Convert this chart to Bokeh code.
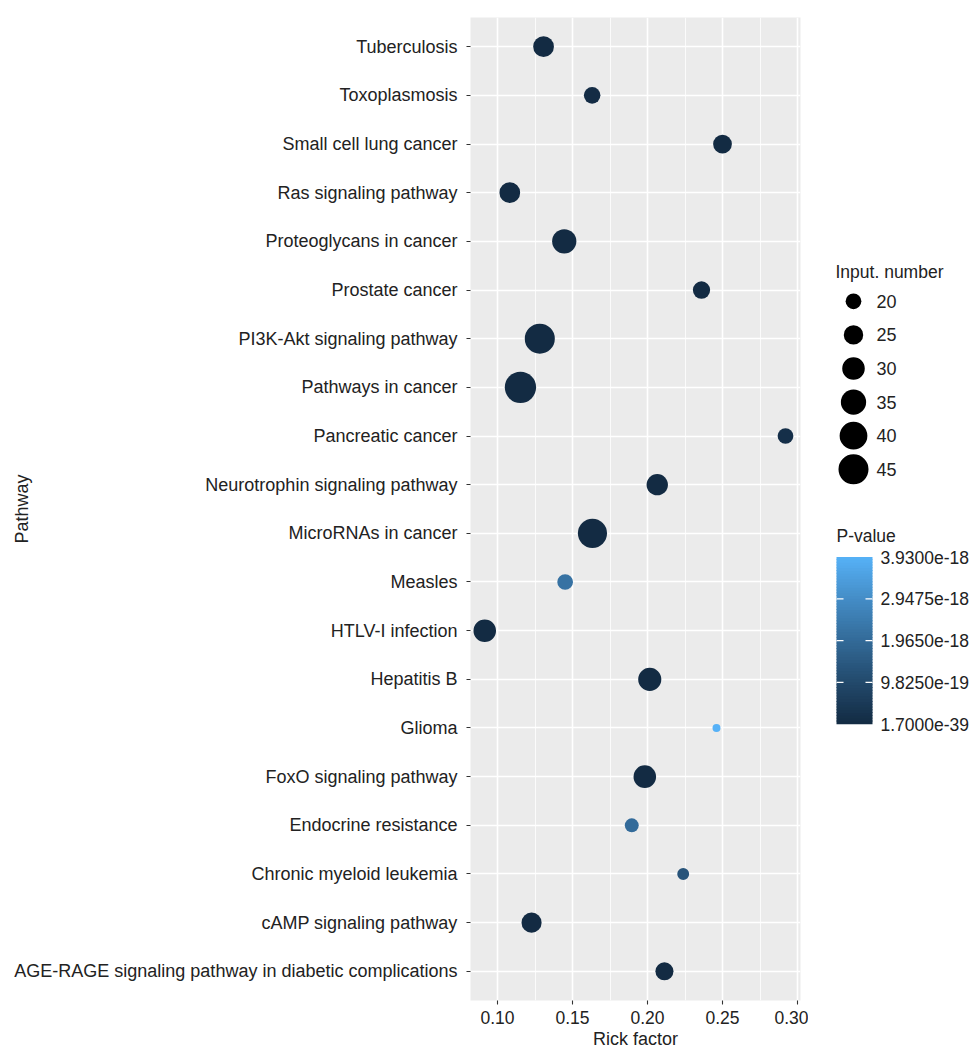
import math
from bokeh.plotting import figure
from bokeh.models import Range1d, FactorRange, FixedTicker, ColumnDataSource, PrintfTickFormatter
from bokeh.layouts import row
from bokeh.transform import linear_cmap
from bokeh.core.properties import value
from bokeh.embed import file_html
from bokeh.resources import INLINE

# ---------------- data ----------------
pathways = [
    "Tuberculosis", "Toxoplasmosis", "Small cell lung cancer", "Ras signaling pathway",
    "Proteoglycans in cancer", "Prostate cancer", "PI3K-Akt signaling pathway",
    "Pathways in cancer", "Pancreatic cancer", "Neurotrophin signaling pathway",
    "MicroRNAs in cancer", "Measles", "HTLV-I infection", "Hepatitis B", "Glioma",
    "FoxO signaling pathway", "Endocrine resistance", "Chronic myeloid leukemia",
    "cAMP signaling pathway", "AGE-RAGE signaling pathway in diabetic complications",
]
rich_factor = [0.1307, 0.1631, 0.2500, 0.1082, 0.1445, 0.2360, 0.1282, 0.1153, 0.2920, 0.2065,
               0.1633, 0.1451, 0.0915, 0.2015, 0.2460, 0.1982, 0.1895, 0.2238, 0.1227, 0.2113]
input_number = [27, 21, 24, 27, 33, 22, 45, 48, 20, 28, 43, 20, 30, 31, 13, 30, 18, 16, 26, 23]
p_value = [2.1e-22, 5.6e-20, 3.4e-21, 1.2e-24, 4.5e-30, 8.9e-21, 2.3e-35, 1.7e-39, 1.5e-19, 6.7e-26,
           3.1e-37, 2.2e-18, 7.8e-27, 1.9e-27, 3.93e-18, 5.2e-28, 2.0e-18, 1.3e-18, 9.4e-23, 4.4e-24]

x_ticks = [0.10, 0.15, 0.20, 0.25, 0.30]
x_minor = [0.125, 0.175, 0.225, 0.275]
size_breaks = [20, 25, 30, 35, 40, 45]
p_breaks = [1.7e-39, 9.825e-19, 1.965e-18, 2.9475e-18, 3.93e-18]
p_labels = ["1.7000e-39", "9.8250e-19", "1.9650e-18", "2.9475e-18", "3.9300e-18"]
P_LOW, P_HIGH = 1.7e-39, 3.93e-18

FONT = value("Liberation Sans")
TXT = "#222222"

# ---------------- palette (ggplot-like Lab gradient) ----------------
def _hex2rgb(h):
    h = h.lstrip("#")
    return [int(h[i:i + 2], 16) / 255 for i in (0, 2, 4)]

def _lin(c):
    return c / 12.92 if c <= 0.04045 else ((c + 0.055) / 1.055) ** 2.4

def _delin(c):
    c = 12.92 * c if c <= 0.0031308 else 1.055 * c ** (1 / 2.4) - 0.055
    return min(1, max(0, c))

WP = (0.95047, 1.0, 1.08883)

def _rgb2lab(rgb):
    r, g, b = [_lin(c) for c in rgb]
    X = 0.4124564 * r + 0.3575761 * g + 0.1804375 * b
    Y = 0.2126729 * r + 0.7151522 * g + 0.0721750 * b
    Z = 0.0193339 * r + 0.1191920 * g + 0.9503041 * b
    def f(t):
        return t ** (1 / 3) if t > 0.008856 else 7.787 * t + 16 / 116
    fx, fy, fz = f(X / WP[0]), f(Y / WP[1]), f(Z / WP[2])
    return (116 * fy - 16, 500 * (fx - fy), 200 * (fy - fz))

def _lab2hex(lab):
    L, a, b = lab
    fy = (L + 16) / 116
    fx = fy + a / 500
    fz = fy - b / 200
    def finv(t):
        return t ** 3 if t ** 3 > 0.008856 else (t - 16 / 116) / 7.787
    X, Y, Z = finv(fx) * WP[0], finv(fy) * WP[1], finv(fz) * WP[2]
    r = 3.2404542 * X - 1.5371385 * Y - 0.4985314 * Z
    g = -0.9692660 * X + 1.8760108 * Y + 0.0415560 * Z
    bb = 0.0556434 * X - 0.2040259 * Y + 1.0572252 * Z
    return "#%02x%02x%02x" % tuple(int(round(_delin(c) * 255)) for c in (r, g, bb))

lo_lab, hi_lab = _rgb2lab(_hex2rgb("#132B43")), _rgb2lab(_hex2rgb("#56B1F7"))
palette = [_lab2hex(tuple(lo_lab[k] + (hi_lab[k] - lo_lab[k]) * i / 255 for k in range(3))) for i in range(256)]

def size_px(n):
    return math.sqrt(max(26.2 * n - 277, 4))

# ---------------- main plot ----------------
src = ColumnDataSource(dict(
    pathway=pathways, rf=rich_factor, n=input_number, pv=p_value,
    sz=[size_px(n) for n in input_number],
))

H = 1053
p = figure(
    width=808, height=H,
    x_range=Range1d(0.082, 0.302),
    y_range=FactorRange(factors=pathways[::-1], range_padding=0.01, range_padding_units="percent"),
    output_backend="svg", toolbar_location=None,
    min_border_left=470, min_border_right=8, min_border_top=17, min_border_bottom=53,
    background_fill_color="#EBEBEB", border_fill_color="white", outline_line_color=None,
)

p.scatter(x="rf", y="pathway", size="sz", source=src,
          fill_color=linear_cmap("pv", palette, P_LOW, P_HIGH),
          line_color=None)

p.xaxis.ticker = FixedTicker(ticks=x_ticks, minor_ticks=x_minor)
p.xaxis.formatter = PrintfTickFormatter(format="%.2f")
p.xgrid.ticker = FixedTicker(ticks=x_ticks, minor_ticks=x_minor)
p.xgrid.grid_line_color = "white"
p.xgrid.grid_line_width = 1.6
p.xgrid.minor_grid_line_color = "white"
p.xgrid.minor_grid_line_width = 0.8
p.ygrid.grid_line_color = "white"
p.ygrid.grid_line_width = 1.6

for ax in (p.xaxis, p.yaxis):
    ax.axis_line_color = None
    ax.major_tick_line_color = "#333333"
    ax.major_tick_line_width = 1.1
    ax.major_tick_out = 4
    ax.major_tick_in = 0
    ax.minor_tick_line_color = None
    ax.major_label_text_color = TXT
    ax.major_label_text_font = "Liberation Sans"
    ax.axis_label_text_font = "Liberation Sans"
    ax.axis_label_text_font_size = "18px"
    ax.axis_label_text_font_style = "normal"
    ax.axis_label_text_color = TXT

p.yaxis.major_label_text_font_size = "18px"
p.yaxis.major_label_standoff = 9
p.yaxis.axis_label = "Pathway"
p.yaxis.axis_label_standoff = -21

p.xaxis.major_label_text_font_size = "17.5px"
p.xaxis.major_label_standoff = 6
p.xaxis.axis_label = "Rick factor"
p.xaxis.axis_label_standoff = 2

# ---------------- legend panel ----------------
q = figure(
    width=170, height=H,
    x_range=Range1d(808, 978), y_range=Range1d(H, 0),
    x_axis_type=None, y_axis_type=None,
    output_backend="svg", toolbar_location=None,
    min_border=0, outline_line_color=None,
    background_fill_color="white", border_fill_color="white",
)

# size legend
leg_y = [304 + 36 * i for i in range(len(size_breaks))]
q.text(x=[835], y=[273], text=["Input. number"], text_baseline="middle", text_align="left",
       text_font=FONT, text_font_size="17.5px", text_color=TXT)
q.scatter(x=[853] * len(size_breaks), y=leg_y, size=[size_px(n) for n in size_breaks],
          fill_color="black", line_color=None)
q.text(x=[876] * len(size_breaks), y=leg_y, text=[str(n) for n in size_breaks],
       text_baseline="middle", text_align="left",
       text_font=FONT, text_font_size="18px", text_color=TXT)

# colour bar legend
CB_L, CB_R, CB_TOP, CB_BOT = 836, 872, 578, 757
nb = 60
vals = [P_LOW + (P_HIGH - P_LOW) * (i + 0.5) / nb for i in range(nb)]
step = (CB_BOT - CB_TOP) / nb
cb = ColumnDataSource(dict(
    v=vals,
    bottom=[CB_BOT - i * step for i in range(nb)],
    top=[max(CB_TOP, CB_BOT - (i + 1) * step - 1.0) for i in range(nb)],
))
cmap = linear_cmap("v", palette, P_LOW, P_HIGH)
q.quad(left=CB_L, right=CB_R, top="top", bottom="bottom", source=cb,
       fill_color=cmap, line_color=None)

def p_to_y(v):
    return CB_BOT - (v - P_LOW) / (P_HIGH - P_LOW) * (CB_BOT - CB_TOP)

tick_y = [p_to_y(v) for v in p_breaks]
inner = tick_y[1:-1]
q.segment(x0=[CB_L] * len(inner), x1=[CB_L + 7] * len(inner), y0=inner, y1=inner,
          line_color="white", line_width=1.2)
q.segment(x0=[CB_R - 7] * len(inner), x1=[CB_R] * len(inner), y0=inner, y1=inner,
          line_color="white", line_width=1.2)
q.text(x=[880] * len(p_breaks), y=tick_y, text=p_labels, text_baseline="middle", text_align="left",
       text_font=FONT, text_font_size="17.5px", text_color=TXT)
q.text(x=[836], y=[555], text=["P-value"], text_baseline="middle", text_align="left",
       text_font=FONT, text_font_size="17.5px", text_color=TXT)

layout = row(p, q)
open("out.html", "w").write(file_html(layout, INLINE))
